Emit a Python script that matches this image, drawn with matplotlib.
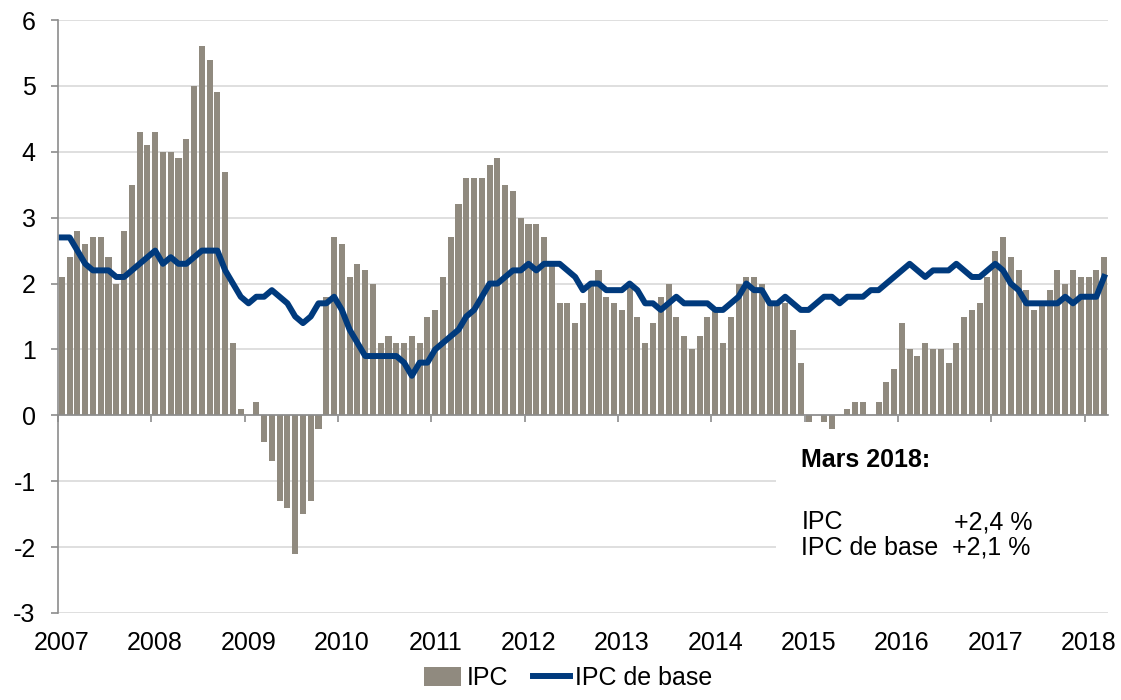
import matplotlib.pyplot as plt
import numpy as np
from matplotlib.patches import Rectangle

plt.rcParams['font.family'] = ['Liberation Sans', 'DejaVu Sans']

# Monthly year-over-year inflation, Jan 2007 .. Mar 2018
ipc = [
    2.1, 2.4, 2.8, 2.6, 2.7, 2.7, 2.4, 2.0, 2.8, 3.5, 4.3, 4.1,    # 2007
    4.3, 4.0, 4.0, 3.9, 4.2, 5.0, 5.6, 5.4, 4.9, 3.7, 1.1, 0.1,    # 2008
    0.0, 0.2, -0.4, -0.7, -1.3, -1.4, -2.1, -1.5, -1.3, -0.2, 1.8, 2.7,  # 2009
    2.6, 2.1, 2.3, 2.2, 2.0, 1.1, 1.2, 1.1, 1.1, 1.2, 1.1, 1.5,    # 2010
    1.6, 2.1, 2.7, 3.2, 3.6, 3.6, 3.6, 3.8, 3.9, 3.5, 3.4, 3.0,    # 2011
    2.9, 2.9, 2.7, 2.3, 1.7, 1.7, 1.4, 1.7, 2.0, 2.2, 1.8, 1.7,    # 2012
    1.6, 2.0, 1.5, 1.1, 1.4, 1.8, 2.0, 1.5, 1.2, 1.0, 1.2, 1.5,    # 2013
    1.6, 1.1, 1.5, 2.0, 2.1, 2.1, 2.0, 1.7, 1.7, 1.7, 1.3, 0.8,    # 2014
    -0.1, 0.0, -0.1, -0.2, 0.0, 0.1, 0.2, 0.2, 0.0, 0.2, 0.5, 0.7,  # 2015
    1.4, 1.0, 0.9, 1.1, 1.0, 1.0, 0.8, 1.1, 1.5, 1.6, 1.7, 2.1,    # 2016
    2.5, 2.7, 2.4, 2.2, 1.9, 1.6, 1.7, 1.9, 2.2, 2.0, 2.2, 2.1,    # 2017
    2.1, 2.2, 2.4,                                                 # 2018
]
ipc_base = [
    2.7, 2.7, 2.5, 2.3, 2.2, 2.2, 2.2, 2.1, 2.1, 2.2, 2.3, 2.4,    # 2007
    2.5, 2.3, 2.4, 2.3, 2.3, 2.4, 2.5, 2.5, 2.5, 2.2, 2.0, 1.8,    # 2008
    1.7, 1.8, 1.8, 1.9, 1.8, 1.7, 1.5, 1.4, 1.5, 1.7, 1.7, 1.8,    # 2009
    1.6, 1.3, 1.1, 0.9, 0.9, 0.9, 0.9, 0.9, 0.8, 0.6, 0.8, 0.8,    # 2010
    1.0, 1.1, 1.2, 1.3, 1.5, 1.6, 1.8, 2.0, 2.0, 2.1, 2.2, 2.2,    # 2011
    2.3, 2.2, 2.3, 2.3, 2.3, 2.2, 2.1, 1.9, 2.0, 2.0, 1.9, 1.9,    # 2012
    1.9, 2.0, 1.9, 1.7, 1.7, 1.6, 1.7, 1.8, 1.7, 1.7, 1.7, 1.7,    # 2013
    1.6, 1.6, 1.7, 1.8, 2.0, 1.9, 1.9, 1.7, 1.7, 1.8, 1.7, 1.6,    # 2014
    1.6, 1.7, 1.8, 1.8, 1.7, 1.8, 1.8, 1.8, 1.9, 1.9, 2.0, 2.1,    # 2015
    2.2, 2.3, 2.2, 2.1, 2.2, 2.2, 2.2, 2.3, 2.2, 2.1, 2.1, 2.2,    # 2016
    2.3, 2.2, 2.0, 1.9, 1.7, 1.7, 1.7, 1.7, 1.7, 1.8, 1.7, 1.8,    # 2017
    1.8, 1.8, 2.1,                                                 # 2018
]
years = list(range(2007, 2019))
y_ticks = [-3, -2, -1, 0, 1, 2, 3, 4, 5, 6]

bar_color = '#908A7F'
line_color = '#003A7D'
grid_color = '#D9D9D9'
axis_color = '#8C8C8C'
fs = 18

fig = plt.figure(figsize=(11.21, 7.0), dpi=100)
ax = fig.add_axes([0.0517, 0.1243, 0.9367, 0.8471])

x = np.arange(len(ipc))
bars = ax.bar(x, ipc, width=0.78, color=bar_color, zorder=2, label='IPC')
line, = ax.plot(x, ipc_base, color=line_color, lw=4.3, zorder=3,
                solid_joinstyle='round', label='IPC de base')

ax.set_xlim(-0.5, len(ipc) - 0.5)
ax.set_ylim(-3, 6)
ax.set_yticks(y_ticks)
ax.set_yticklabels([str(v) for v in y_ticks], fontsize=fs)
ax.yaxis.grid(True, color=grid_color, lw=1.2, zorder=0)
ax.set_axisbelow(True)

for s in ['top', 'right']:
    ax.spines[s].set_visible(False)
ax.spines['left'].set_color(axis_color)
ax.spines['left'].set_linewidth(1.2)
ax.spines['bottom'].set_position(('data', 0))
ax.spines['bottom'].set_color(axis_color)
ax.spines['bottom'].set_linewidth(1.2)
ax.spines['bottom'].set_zorder(4)
ax.tick_params(axis='y', colors=axis_color, length=5, width=1.2,
               labelcolor='black', pad=11)

# year boundaries as ticks on the zero line, labels at the bottom
year_pos = [12 * i - 0.5 for i in range(len(years))]
ax.set_xticks(year_pos)
ax.set_xticklabels([])
ax.tick_params(axis='x', colors=axis_color, length=5, width=1.2)
for pos, yr in zip(year_pos, years):
    ax.text(pos + 0.5, -0.05, str(yr), transform=ax.get_xaxis_transform(),
            ha='center', va='center', fontsize=fs)

# annotation box
ax.add_patch(Rectangle((0.684, 0.02), 0.316, 0.275, transform=ax.transAxes,
                       facecolor='white', edgecolor='none', zorder=1))
ax.text(0.708, 0.258, 'Mars 2018:', transform=ax.transAxes, fontsize=fs,
        fontweight='bold', va='center', zorder=5)
ax.text(0.708, 0.153, 'IPC', transform=ax.transAxes, fontsize=fs,
        va='center', zorder=5)
ax.text(0.853, 0.153, '+2,4 %', transform=ax.transAxes, fontsize=fs,
        va='center', zorder=5)
ax.text(0.708, 0.110, 'IPC de base', transform=ax.transAxes, fontsize=fs,
        va='center', zorder=5)
ax.text(0.851, 0.110, '+2,1 %', transform=ax.transAxes, fontsize=fs,
        va='center', zorder=5)

fig.legend(handles=[bars, line], loc='lower center', bbox_to_anchor=(0.507, -0.018),
           ncol=2, frameon=False, fontsize=fs, handlelength=1.5,
           handleheight=0.8, handletextpad=0.2, columnspacing=1.0)

fig.savefig('out.png', dpi=100)
